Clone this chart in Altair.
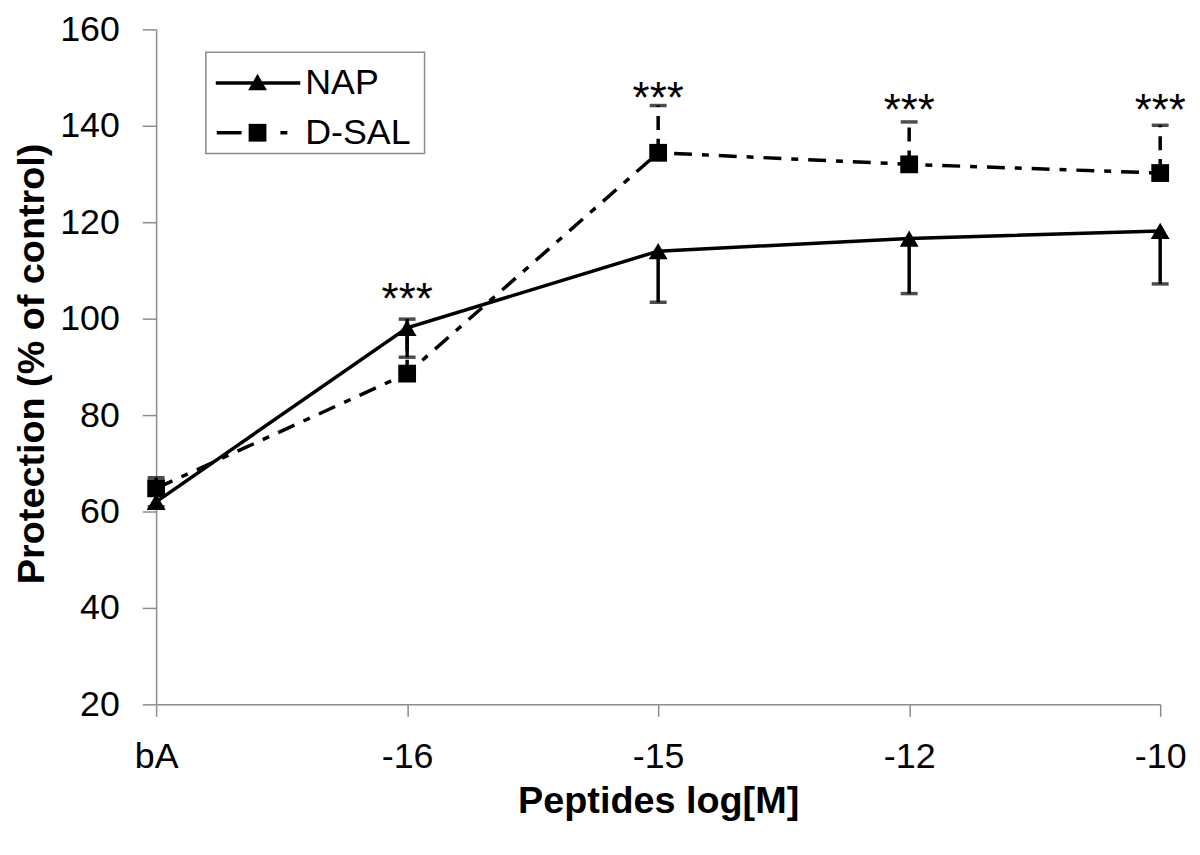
import altair as alt
import pandas as pd

doses = ["bA", "-16", "-15", "-12", "-10"]
nap = [62.0, 98.1, 114.0, 116.6, 118.2]
nap_err_low = [61.0, 92.0, 103.4, 105.2, 107.2]
dsal = [64.8, 88.6, 134.4, 132.0, 130.2]
dsal_err_high = [67.0, 99.9, 144.2, 140.8, 140.1]
star_doses = ["-16", "-15", "-12", "-10"]
star_y = [101.0, 142.6, 140.2, 140.2]

FONT = "Liberation Sans"

rows = []
for d, v, e in zip(doses, nap, nap_err_low):
    rows.append({"dose": d, "series": "NAP", "value": v, "lo": e, "hi": v})
for d, v, e in zip(doses, dsal, dsal_err_high):
    rows.append({"dose": d, "series": "D-SAL", "value": v, "lo": v, "hi": e})
df = pd.DataFrame(rows)
nap_df = df[df.series == "NAP"]
dsal_df = df[df.series == "D-SAL"]
stars_df = pd.DataFrame({"dose": star_doses, "y": star_y, "t": ["***"] * 4})

GRAY = "#8c8c8c"
xenc = alt.X("dose:O", sort=doses, scale=alt.Scale(type="point", padding=0),
             axis=alt.Axis(title="Peptides log[M]", labelAngle=0, labelFontSize=36,
                           labelFont=FONT, titleFont=FONT, titleFontSize=38,
                           titleFontWeight="bold", titleY=98, titleBaseline="middle",
                           labelPadding=24, labelBaseline="top",
                           tickSize=12, domainColor=GRAY, tickColor=GRAY,
                           labelColor="black", titleColor="black", grid=False,
                           domainWidth=1.5, tickWidth=1.5))
yscale = alt.Scale(domain=[20, 160], nice=False, zero=False)
yaxis = alt.Axis(title="Protection (% of control)", values=[20, 40, 60, 80, 100, 120, 140, 160],
                 labelFontSize=36, labelFont=FONT, titleFont=FONT, titleFontSize=38,
                 titleFontWeight="bold", titleX=-124, titleY=336, titleAngle=-90,
                 titleAlign="center", titleBaseline="middle",
                 labelPadding=23, tickSize=14,
                 domainColor=GRAY, tickColor=GRAY, labelColor="black",
                 titleColor="black", grid=False, domainWidth=1.5, tickWidth=1.5)

DASH = [18, 10, 7, 10]
xs = alt.X("dose:O", sort=doses)

nap_line = alt.Chart(nap_df).mark_line(color="black", strokeWidth=3.5).encode(
    x=xenc, y=alt.Y("value:Q", scale=yscale, axis=yaxis))
dsal_line = alt.Chart(dsal_df).mark_line(color="black", strokeWidth=3.5, strokeDash=DASH).encode(
    x=xs, y=alt.Y("value:Q"))

nap_err = alt.Chart(nap_df).mark_rule(color="black", strokeWidth=3.5).encode(
    x=xs, y="lo:Q", y2="hi:Q")
nap_cap = alt.Chart(nap_df).mark_tick(color="black", thickness=3.5, size=17).encode(
    x=xs, y="lo:Q")
dsal_err = alt.Chart(dsal_df).mark_rule(color="black", strokeWidth=3.5, strokeDash=[14, 9]).encode(
    x=xs, y="lo:Q", y2="hi:Q")
dsal_cap = alt.Chart(dsal_df).mark_tick(color="black", thickness=3.5, size=17).encode(
    x=xs, y="hi:Q")

nap_pts = alt.Chart(nap_df).mark_point(shape="triangle-up", filled=True, color="black",
                                       size=360, opacity=1).encode(x=xs, y="value:Q")
dsal_pts = alt.Chart(dsal_df).mark_point(shape="square", filled=True, color="black",
                                         size=320, opacity=1).encode(x=xs, y="value:Q")

stars = alt.Chart(stars_df).mark_text(font=FONT, fontSize=44, color="black",
                                      baseline="alphabetic").encode(
    x=xs, y="y:Q", text="t:N")

one = pd.DataFrame({"k": [0]})
box = alt.Chart(one).mark_rect(fill="white", stroke=GRAY, strokeWidth=1.5).encode(
    x=alt.value(50), x2=alt.value(270), y=alt.value(23), y2=alt.value(125))
leg_nap_line = alt.Chart(one).mark_rule(color="black", strokeWidth=3.5).encode(
    x=alt.value(60), x2=alt.value(145), y=alt.value(54))
leg_nap_pt = alt.Chart(one).mark_point(shape="triangle-up", filled=True, color="black",
                                       size=360, opacity=1).encode(
    x=alt.value(102), y=alt.value(53))
leg_dsal_l1 = alt.Chart(one).mark_rule(color="black", strokeWidth=3.5).encode(
    x=alt.value(61), x2=alt.value(86), y=alt.value(104))
leg_dsal_l2 = alt.Chart(one).mark_rule(color="black", strokeWidth=3.5).encode(
    x=alt.value(125), x2=alt.value(132), y=alt.value(104))
leg_dsal_pt = alt.Chart(one).mark_point(shape="square", filled=True, color="black",
                                        size=320, opacity=1).encode(
    x=alt.value(102), y=alt.value(104))
leg_t1 = alt.Chart(one).mark_text(font=FONT, fontSize=36, align="left", baseline="middle",
                                  color="black").encode(
    x=alt.value(150), y=alt.value(54), text=alt.value("NAP"))
leg_t2 = alt.Chart(one).mark_text(font=FONT, fontSize=36, align="left", baseline="middle",
                                  color="black").encode(
    x=alt.value(150), y=alt.value(104), text=alt.value("D-SAL"))

chart = alt.layer(
    nap_line, dsal_line, nap_err, nap_cap, dsal_err, dsal_cap, nap_pts, dsal_pts, stars,
    box, leg_nap_line, leg_nap_pt, leg_dsal_l1, leg_dsal_l2, leg_dsal_pt, leg_t1, leg_t2
).properties(
    width=1010, height=679,
    autosize=alt.AutoSizeParams(type="none"),
    padding={"left": 149, "top": 19, "right": 32, "bottom": 140},
).configure_view(stroke=None)

chart.save("out.html", embed_options={"renderer": "svg", "actions": False})
